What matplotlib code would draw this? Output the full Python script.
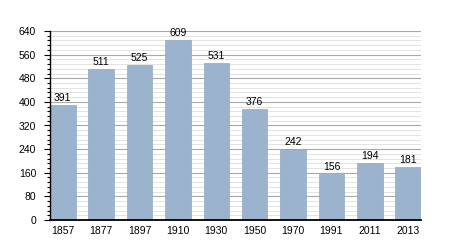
import matplotlib
matplotlib.use("Agg")
import matplotlib.pyplot as plt
import numpy as np

years = ["1857", "1877", "1897", "1910", "1930", "1950", "1970", "1991", "2011", "2013"]
population = [391, 511, 525, 609, 531, 376, 242, 156, 194, 181]
yticks = [0, 80, 160, 240, 320, 400, 480, 560, 640]

plt.rcParams['font.family'] = ['Liberation Sans', 'DejaVu Sans']
fig = plt.figure(figsize=(4.5, 2.5), dpi=100)
ax = fig.add_axes([50 / 450, 30 / 250, 371 / 450, 189 / 250])
x = np.arange(len(years))
ax.bar(x, population, width=0.667, color="#9bb3cc", edgecolor="#8fa9c4", linewidth=0.5, zorder=3)
for xi, v in zip(x, population):
    ax.text(xi, v + 6, str(v), ha="center", va="bottom", fontsize=7.5, zorder=4)
ax.set_xlim(-0.3335, len(years) - 0.6665)
ax.set_ylim(0, 640)
ax.set_yticks(yticks)
ax.set_yticks(np.arange(0, 641, 16), minor=True)
ax.set_xticks(x)
ax.set_xticklabels(years)
ax.grid(axis="y", which="major", color="#a8a8a8", linewidth=0.8, zorder=1)
ax.grid(axis="y", which="minor", color="#dedede", linewidth=0.6, zorder=1)
ax.tick_params(axis="both", labelsize=7.5, length=4, width=0.8)
ax.tick_params(axis="y", which="minor", length=2.5, width=0.8, color="black")
ax.tick_params(axis="y", pad=6)
ax.tick_params(axis="x", length=0, pad=4)
for s in ["top", "right"]:
    ax.spines[s].set_visible(False)
ax.spines["left"].set_linewidth(1)
ax.spines["bottom"].set_linewidth(1.3)
for s in ["left", "bottom"]:
    ax.spines[s].set_zorder(5)
fig.savefig("out.png", dpi=100)
